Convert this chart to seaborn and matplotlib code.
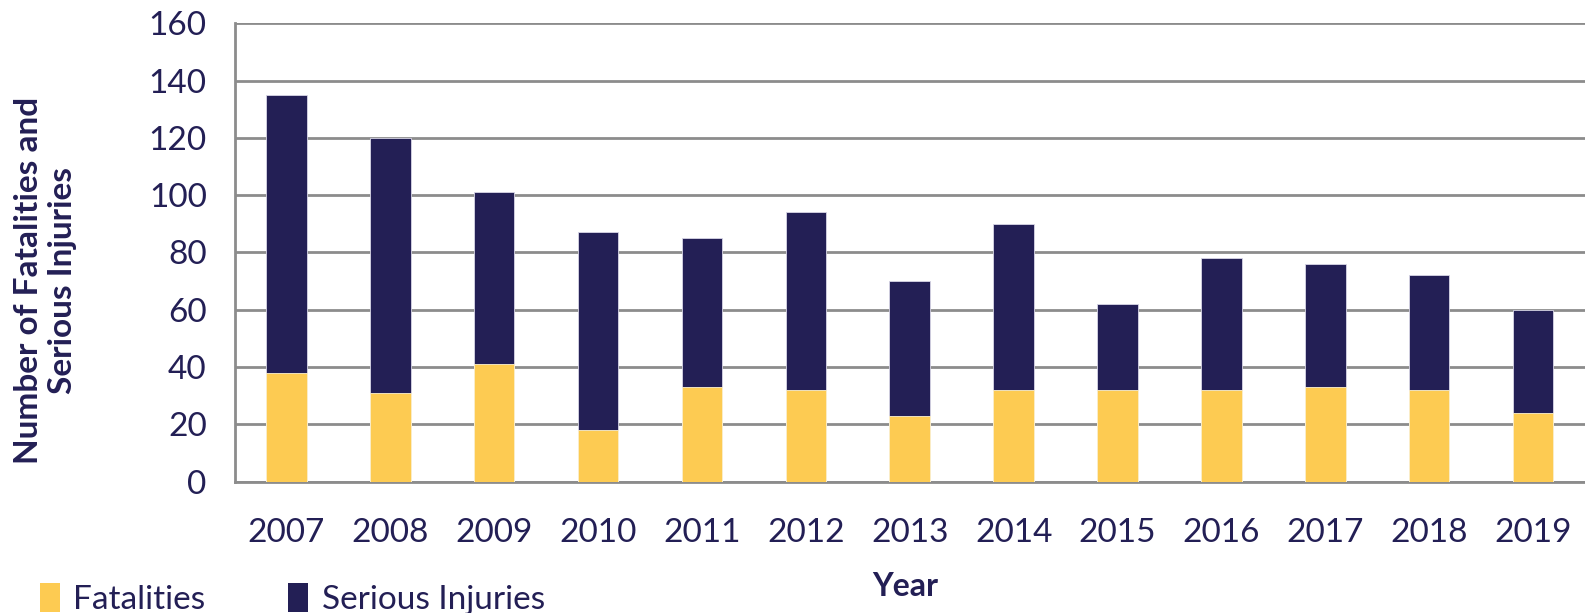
import pandas as pd
import seaborn as sns
import matplotlib.pyplot as plt
from matplotlib.patches import Patch

# data
years = ["2007", "2008", "2009", "2010", "2011", "2012", "2013",
         "2014", "2015", "2016", "2017", "2018", "2019"]
fatalities = [38, 31, 41, 18, 33, 32, 23, 32, 32, 32, 33, 32, 24]
serious_injuries = [97, 89, 60, 69, 52, 62, 47, 58, 30, 46, 43, 40, 36]

yellow = "#FDCB52"
navy = "#231F55"
grid_grey = "#8C8C8C"

data = pd.DataFrame({"Year": years, "Fatalities": fatalities,
                     "Serious_Injuries": serious_injuries})
data["Total"] = data["Fatalities"] + data["Serious_Injuries"]

sns.set_style("white")
plt.rcParams["font.family"] = ["Lato", "DejaVu Sans"]

fig = plt.figure(figsize=(15.85, 6.13), dpi=100)
ax = fig.add_axes([234.5 / 1585, 1 - 481.7 / 613, 1 - 234.5 / 1585, (481.7 - 23.3) / 613])

# stacked bars: total (navy) first, fatalities (yellow) over it
sns.barplot(data=data, x="Year", y="Total", color=navy, width=0.39,
            saturation=1, ax=ax, edgecolor="#D8D6E6", linewidth=0.6, zorder=3)
sns.barplot(data=data, x="Year", y="Fatalities", color=yellow, width=0.39,
            saturation=1, ax=ax, edgecolor="#FFF3D0", linewidth=0.6, zorder=4)

ax.set_ylim(0, 160)
ax.set_xlim(-0.5, 12.39)
ax.set_yticks(range(0, 161, 20))
ax.yaxis.grid(True, color=grid_grey, linewidth=2, zorder=0)
ax.set_axisbelow(True)

for s in ["top", "right"]:
    ax.spines[s].set_visible(False)
for s in ["left", "bottom"]:
    ax.spines[s].set_color(grid_grey)
    ax.spines[s].set_linewidth(2)

# labels at the bar centres, tick marks between categories
ax.set_xticks([i for i in range(len(years))])
ax.set_xticklabels(years)
ax.set_xticks([i - 0.5 for i in range(len(years) + 1)], minor=True)
ax.tick_params(axis="x", which="major", length=0, pad=26, labelsize=24, labelcolor=navy)
ax.tick_params(axis="x", which="minor", length=11, width=1.5, color=grid_grey, direction="out")
ax.tick_params(axis="y", length=10, width=1.5, color=grid_grey, direction="out",
               pad=10, labelsize=24, labelcolor=navy)

ax.set_xlabel("")
ax.set_ylabel("")
fig.text(0.571, 0.044, "Year", ha="center", va="center", fontsize=23,
         fontweight="bold", color=navy)
fig.text(0.0285, 0.542, "Number of Fatalities and\nSerious Injuries", ha="center",
         va="center", rotation=90, fontsize=24, fontweight="bold", color=navy,
         linespacing=1.2)

handles = [Patch(facecolor=yellow, edgecolor="none", label="Fatalities"),
           Patch(facecolor=navy, edgecolor="none", label="Serious Injuries")]
fig.legend(handles=handles, loc="lower left", bbox_to_anchor=(0.006, -0.052), ncol=2,
           frameon=False, fontsize=24, labelcolor=navy, handlelength=0.6,
           handleheight=1.0, handletextpad=0.4, columnspacing=2.5)

fig.savefig("out.png", dpi=100)
